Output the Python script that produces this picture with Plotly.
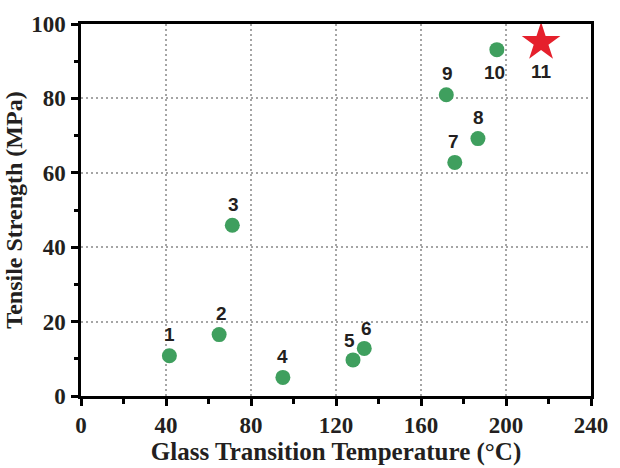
import plotly.graph_objects as go

labels = ["1", "2", "3", "4", "5", "6", "7", "8", "9", "10"]
tg = [41.6, 65.0, 71.2, 95.0, 128.0, 133.3, 175.9, 186.8, 171.9, 195.7]
strength = [10.8, 16.5, 45.9, 5.0, 9.7, 12.8, 62.8, 69.2, 81.0, 93.1]

star_label = ["11"]
star_tg = [216.5]
star_strength = [95.1]

# label offsets (pixels)
label_dx = [0, 2, 1, 0, -4, 2, -1, 1, 1, -2]
label_dy = [21, 21, 21, 21, 19, 20, 21, 21, 21, -23]

text_col = "#231f20"
fig = go.Figure()
fig.add_trace(go.Scatter(x=tg, y=strength, mode="markers",
                         marker=dict(size=15, color="#3f9f5e", line=dict(width=0)),
                         showlegend=False, hoverinfo="skip"))
fig.add_trace(go.Scatter(x=star_tg, y=star_strength, mode="markers",
                         marker=dict(size=29, color="#e5202c", symbol="star", line=dict(width=0)),
                         showlegend=False, hoverinfo="skip"))

lab_font = dict(family="Liberation Sans, Arial", size=19, color=text_col)
for lab, x, y, dx, dy in zip(labels, tg, strength, label_dx, label_dy):
    fig.add_annotation(x=x, y=y, text="<b>" + lab + "</b>", showarrow=False,
                       xshift=dx, yshift=dy, font=lab_font)
for lab, x, y in zip(star_label, star_tg, star_strength):
    fig.add_annotation(x=x, y=y, text="<b>" + lab + "</b>", showarrow=False,
                       yshift=-29, font=lab_font)

serif = "Liberation Serif, Times New Roman"
axis_common = dict(
    showline=True, linecolor="black", linewidth=2.5, mirror=True,
    ticks="outside", ticklen=7, tickwidth=2.5, tickcolor="black",
    showgrid=True, gridcolor="#a5a5a5", griddash="1.6px,3.4px", gridwidth=1.6,
    zeroline=False,
    tickfont=dict(family=serif, size=23, color=text_col, weight="bold"),
)

fig.update_xaxes(range=[0, 240], tickvals=[0, 40, 80, 120, 160, 200, 240],
                 minor=dict(ticks="outside", ticklen=5, tickwidth=2.5, tickcolor="black", dtick=20, tick0=0),
                 title=dict(text="Glass Transition Temperature (°C)", standoff=0,
                            font=dict(family=serif, size=25, color=text_col, weight="bold")),
                 **axis_common)
fig.update_yaxes(range=[0, 100], tickvals=[0, 20, 40, 60, 80, 100],
                 ticklabelstandoff=1,
                 minor=dict(ticks="outside", ticklen=4, tickwidth=2.5, tickcolor="black", dtick=10, tick0=0),
                 title=dict(text="Tensile Strength (MPa)", standoff=2,
                            font=dict(family=serif, size=24, color=text_col, weight="bold")),
                 **axis_common)

fig.update_layout(width=620, height=468, margin=dict(l=77, r=22, t=21, b=61),
                  plot_bgcolor="white", paper_bgcolor="white")

fig.write_html("out.html")
